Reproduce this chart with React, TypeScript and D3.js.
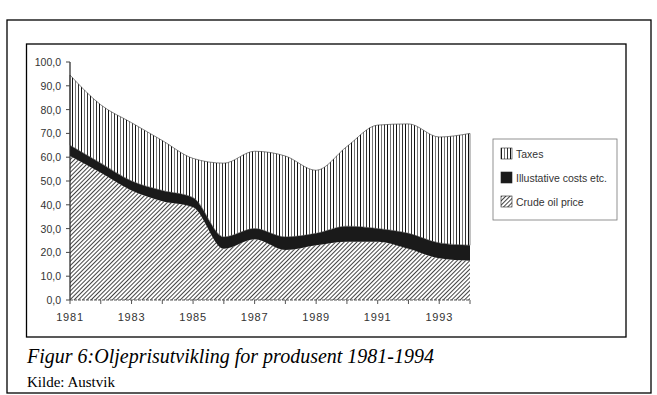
import React from 'react';
import * as d3 from 'd3';

// values (stacked: crude + costs + taxes)
const years = [1981, 1982, 1983, 1984, 1985, 1986, 1987, 1988, 1989, 1990, 1991, 1992, 1993, 1994];
const crudeOil = [60.5, 53.5, 46, 41.5, 39, 21.5, 25.5, 21, 23, 24.5, 24.5, 21.5, 17.5, 16.5];
const costs = [4.5, 4, 4, 4.5, 4, 5, 4.5, 5.5, 5, 6.5, 5.5, 6.5, 6.5, 6.5];
const taxes = [29.5, 24.5, 24.5, 21, 16.5, 31, 32.5, 34, 26.5, 33.5, 43.5, 46, 44.5, 47];
const yTicks = [0, 10, 20, 30, 40, 50, 60, 70, 80, 90, 100];
const xLabels = [1981, 1983, 1985, 1987, 1989, 1991, 1993];
const seriesKeys = ['crude', 'costs', 'taxes'];
const legendItems = [
  { key: 'taxes', label: 'Taxes' },
  { key: 'costs', label: 'Illustative costs etc.' },
  { key: 'crude', label: 'Crude oil price' },
];

const fills: Record<string, string> = {
  crude: 'url(#hatch)',
  costs: '#1a1a1a',
  taxes: 'url(#vlines)',
};

const App = () => {
  const width = 657;
  const height = 395;

  const x = d3.scaleLinear().domain([1981, 1994]).range([70, 470]);
  const y = d3.scaleLinear().domain([0, 100]).range([300, 62]);

  const rows = years.map((yr, i) => ({ year: yr, crude: crudeOil[i], costs: costs[i], taxes: taxes[i] }));
  const stacked = d3.stack<any>().keys(seriesKeys)(rows);

  const area = d3.area<any>()
    .x(d => x(d.data.year))
    .y0(d => y(d[0]))
    .y1(d => y(d[1]))
    .curve(d3.curveMonotoneX);

  const fmt = (v: number) => v.toFixed(1).replace('.', ',');
  const sans = 'Liberation Sans, Arial, sans-serif';

  return (
    <svg width={width} height={height} style={{ position: 'absolute', left: 0, top: 0 }}>
      <defs>
        <pattern id="vlines" patternUnits="userSpaceOnUse" width="9" height="10">
          <rect width="9" height="10" fill="#fff" />
          <line x1="0.5" y1="0" x2="0.5" y2="10" stroke="#111" strokeWidth="1" />
          <line x1="3.5" y1="0" x2="3.5" y2="10" stroke="#777" strokeWidth="1" />
          <line x1="6.5" y1="0" x2="6.5" y2="10" stroke="#333" strokeWidth="1" />
        </pattern>
        <pattern id="hatch" patternUnits="userSpaceOnUse" width="3" height="3" patternTransform="rotate(45)">
          <rect width="3" height="3" fill="#fff" />
          <line x1="0" y1="0" x2="0" y2="3" stroke="#222" strokeWidth="1.7" />
        </pattern>
      </defs>
      <rect x={0} y={0} width={width} height={height} fill="#fff" />
      <rect x={7} y={20} width={644} height={373} fill="none" stroke="#000" strokeWidth={1.3} />
      <rect x={26.5} y={44} width={599.5} height={293} fill="none" stroke="#000" strokeWidth={1.3} />

      {stacked.map(s => (
        <path key={s.key} d={area(s) || ''} fill={fills[s.key]} stroke={s.key === 'taxes' ? '#333' : 'none'} strokeWidth={0.6} />
      ))}

      {/* y axis */}
      <line x1={70} x2={70} y1={y(100)} y2={y(0)} stroke="#222" strokeWidth={1.2} />
      {yTicks.map(t => (
        <g key={t}>
          <line x1={66} x2={70} y1={y(t)} y2={y(t)} stroke="#444" />
          <text x={61} y={y(t) + 4} textAnchor="end" fontFamily={sans} fontSize={10.5} fill="#333">
            {fmt(t)}
          </text>
        </g>
      ))}

      {/* x axis */}
      <line x1={70} x2={470} y1={y(0)} y2={y(0)} stroke="#555" strokeWidth={1} strokeDasharray="3 1" />
      {years.map(yr => (
        <line key={yr} x1={x(yr)} x2={x(yr)} y1={y(0)} y2={y(0) + 4} stroke="#555" />
      ))}
      {xLabels.map(yr => (
        <text key={yr} x={x(yr)} y={321} textAnchor="middle" fontFamily={sans} fontSize={11} letterSpacing={0.8} fill="#333">
          {yr}
        </text>
      ))}

      {/* legend */}
      <rect x={493} y={139} width={124} height={81} fill="#fff" stroke="#777" strokeWidth={0.8} />
      {legendItems.map((item, i) => (
        <g key={item.key} transform={`translate(501,${148 + i * 24})`}>
          <rect width={11} height={11} fill={fills[item.key]} stroke="#222" strokeWidth={0.6} />
          <text x={15} y={10} fontFamily={sans} fontSize={10.5} fill="#333">
            {item.label}
          </text>
        </g>
      ))}

      {/* caption */}
      <text x={27} y={363} fontFamily="Liberation Serif, Times New Roman, serif" fontStyle="italic" fontSize={20}>
        Figur 6:Oljeprisutvikling for produsent 1981-1994
      </text>
      <text x={27} y={387} fontFamily="Liberation Serif, Times New Roman, serif" fontSize={15}>
        Kilde: Austvik
      </text>
    </svg>
  );
};

export default App;
